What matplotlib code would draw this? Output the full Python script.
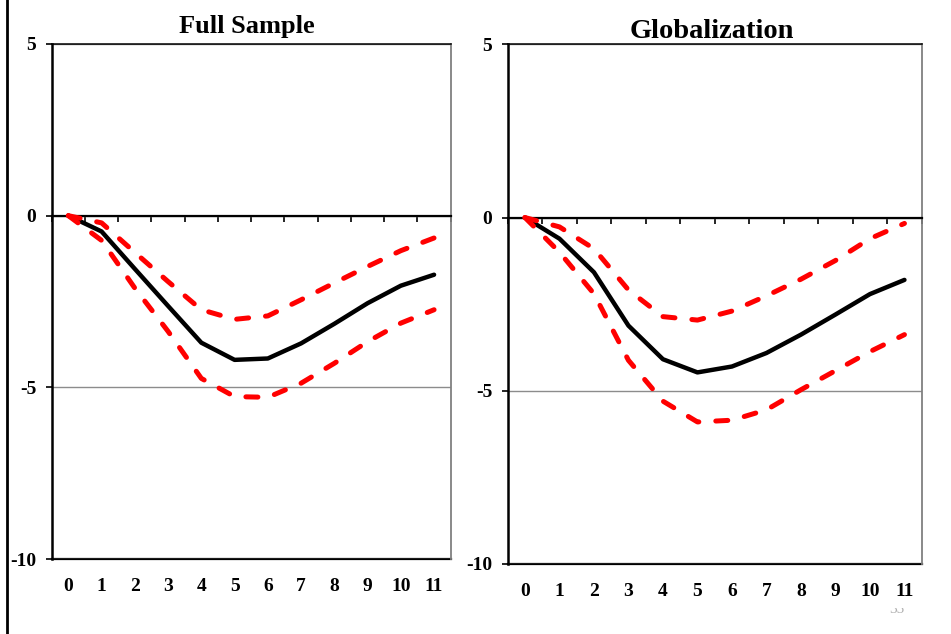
import numpy as np
import matplotlib
matplotlib.use("Agg")
import matplotlib.pyplot as plt
from matplotlib.lines import Line2D
from matplotlib.transforms import Bbox, TransformedBbox

# ---------------- data ----------------
horizons = list(range(12))
tick_labels = [str(h) for h in horizons]
y_ticks = [5, 0, -5, -10]
y_tick_labels = ["5", "0", "-5", "-10"]

titles = ["Full Sample", "Globalization"]

full_irf = [0.0, -0.46, -1.55, -2.63, -3.70, -4.20, -4.16, -3.72, -3.15, -2.55, -2.04, -1.72]
full_upper = [0.0, -0.21, -1.07, -1.92, -2.74, -3.02, -2.92, -2.45, -1.96, -1.48, -1.02, -0.65]
full_lower = [0.0, -0.72, -2.11, -3.37, -4.74, -5.27, -5.29, -4.88, -4.30, -3.67, -3.13, -2.74]

glob_irf = [0.0, -0.61, -1.58, -3.12, -4.09, -4.47, -4.30, -3.91, -3.38, -2.80, -2.21, -1.80]
glob_upper = [0.0, -0.27, -0.90, -2.09, -2.86, -2.96, -2.70, -2.26, -1.78, -1.24, -0.61, -0.17]
glob_lower = [0.0, -1.00, -2.20, -4.12, -5.30, -5.90, -5.85, -5.55, -4.97, -4.42, -3.87, -3.38]

page_number = "35"

# ---------------- style ----------------
plt.rcParams["font.family"] = ["Liberation Serif", "DejaVu Serif"]
plt.rcParams["font.weight"] = "bold"

W, H = 951, 634
fig = plt.figure(figsize=(W / 100, H / 100), dpi=100)
fig.patch.set_facecolor("white")


def px_axes(x0, x1, ytop, ybot):
    return fig.add_axes([x0 / W, 1 - ybot / H, (x1 - x0) / W, (ybot - ytop) / H])


def panel(ax, irf, up, lo, title, tsize, tpad, tx):
    ax.set_xlim(-0.5, len(horizons) - 0.5)
    ax.set_ylim(-10, 5)

    ax.plot(horizons, irf, color="black", lw=3.2, zorder=3,
            solid_joinstyle="round", solid_capstyle="round")
    for band in (up, lo):
        ax.plot(horizons, band, color="#ff0000", lw=3.6, dashes=(2.4, 3.4),
                dash_capstyle="round", zorder=4)

    # spines
    ax.spines["bottom"].set_position(("data", 0))
    ax.spines["bottom"].set_linewidth(1.6)
    ax.spines["bottom"].set_zorder(2.5)
    ax.spines["top"].set_linewidth(1.1)
    ax.spines["right"].set_color("#808080")
    ax.spines["right"].set_linewidth(1.3)
    ax.spines["left"].set_linewidth(1.8)

    # category axis on the zero line
    ax.set_xticks(horizons)
    ax.tick_params(axis="x", which="major", length=0, labelbottom=False)
    ax.set_xticks(np.arange(len(horizons) + 1) - 0.5, minor=True)
    ax.tick_params(axis="x", which="minor", length=4, width=1.2, direction="out")

    # value axis
    ax.set_yticks(y_ticks)
    ax.set_yticklabels(y_tick_labels)
    ax.tick_params(axis="y", length=4, width=1.2, pad=7, labelsize=14)
    ax.yaxis.grid(True, color="#8c8c8c", lw=1.0)
    ax.set_axisbelow(True)

    # labels at the bottom of the plot area
    sec = ax.secondary_xaxis("bottom")
    sec.set_xticks(horizons)
    sec.set_xticklabels(tick_labels)
    sec.tick_params(length=0, pad=14, labelsize=14)
    sec.spines["bottom"].set_linewidth(1.6)

    ax.set_title(title, fontsize=tsize, fontweight="bold", pad=tpad, x=tx)


ax1 = px_axes(51.7, 450.7, 44, 559)
ax2 = px_axes(507.7, 921.7, 44.3, 564)

panel(ax1, full_irf, full_upper, full_lower, titles[0], 19, 8, 0.489)
panel(ax2, glob_irf, glob_upper, glob_lower, titles[1], 20.5, 3.6, 0.493)

# slide border line on the left
fig.add_artist(Line2D([7 / W, 7 / W], [0, 1], transform=fig.transFigure,
                      color="black", lw=2.0))

# page number, mostly hidden behind the chart
t = fig.text(897 / W, 1 - 613 / H, page_number, ha="center", va="baseline",
             fontsize=11, color="#b0b0b0", fontweight="normal")
t.set_clip_on(True)
t.set_clip_box(TransformedBbox(Bbox.from_extents(0.85, 0, 1, (H - 608) / H),
                               fig.transFigure))

fig.savefig("out.png", dpi=100)
